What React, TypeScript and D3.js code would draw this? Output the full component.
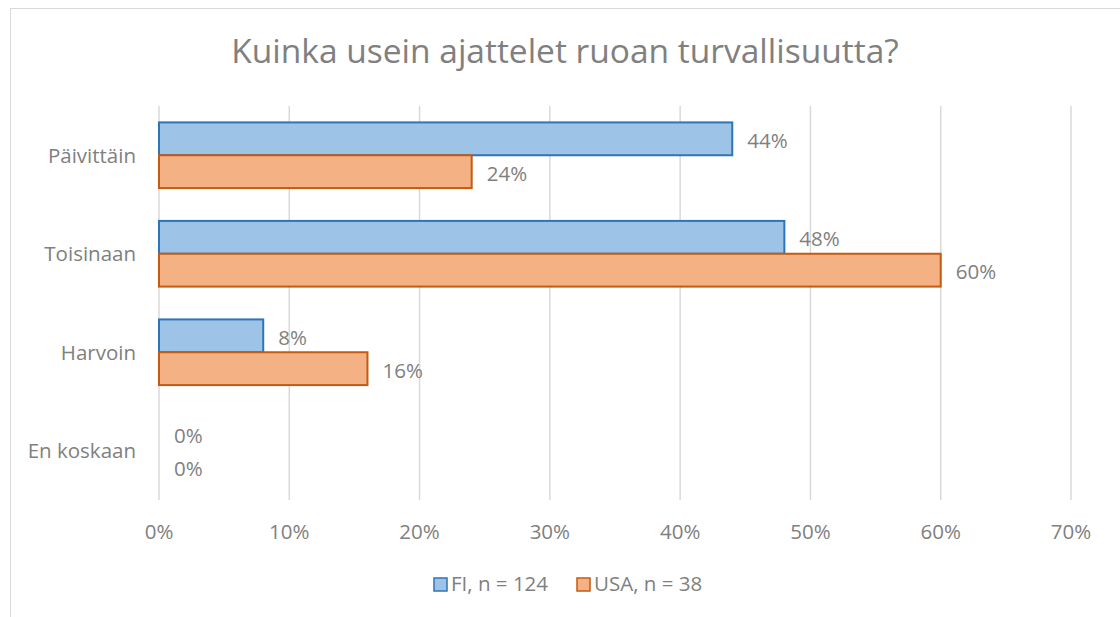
import React from "react";
import * as d3 from "d3";

const title = "Kuinka usein ajattelet ruoan turvallisuutta?";
const categories = ["Päivittäin", "Toisinaan", "Harvoin", "En koskaan"];
const seriesNames = ["FI, n = 124", "USA, n = 38"];
const fiValues = [44, 48, 8, 0];
const usaValues = [24, 60, 16, 0];
const xTicks = [0, 10, 20, 30, 40, 50, 60, 70];

const fills = ["#9DC3E6", "#F4B183"];
const strokes = ["#2E75B6", "#C55A11"];
const FONT = "'Open Sans', 'Noto Sans', sans-serif";
const TXT = "#808080";
const FS = 20.5;

export default function App() {
  const W = 1120, H = 617;
  const x = d3.scaleLinear().domain([0, 70]).range([159, 1071]);
  const y = d3.scaleBand<string>().domain(categories).range([106, 500]).paddingInner(1 / 3).paddingOuter(1 / 6);
  const inner = d3.scaleBand<number>().domain([0, 1]).range([0, y.bandwidth()]);
  const series = [fiValues, usaValues];

  return (
    <svg width={W} height={H} style={{ position: "absolute", left: 0, top: 0 }} fontFamily={FONT}>
      <rect x={0} y={0} width={W} height={H} fill="#fff" />
      <rect x={10.5} y={8.5} width={W + 20} height={H + 20} fill="none" stroke="#D9D9D9" strokeWidth={1} />
      <text x={565} y={54} textAnchor="middle" dominantBaseline="middle" fontSize={33.5} fill={TXT}>{title}</text>
      {xTicks.map((t) => (
        <g key={t}>
          <line x1={x(t)} x2={x(t)} y1={106} y2={500} stroke="#D9D9D9" strokeWidth={1.5} />
          <text x={x(t)} y={534} textAnchor="middle" dominantBaseline="middle" fontSize={FS} fill={TXT}>{t}%</text>
        </g>
      ))}
      {categories.map((c) => (
        <text key={c} x={136} y={(y(c) as number) + y.bandwidth() / 2 + 2} textAnchor="end" dominantBaseline="middle" fontSize={FS} fill={TXT}>{c}</text>
      ))}
      {series.map((vals, si) =>
        vals.map((v, i) => {
          const c = categories[i];
          const y0 = (y(c) as number) + (inner(si) as number);
          const bh = inner.bandwidth();
          return (
            <g key={`${si}-${i}`}>
              {v > 0 && (
                <rect x={x(0)} y={y0} width={x(v) - x(0)} height={bh} fill={fills[si]} stroke={strokes[si]} strokeWidth={2} />
              )}
              <text x={x(v) + 15} y={y0 + bh / 2 + 3.5} dominantBaseline="middle" fontSize={FS} fill={TXT}>{v}%</text>
            </g>
          );
        })
      )}
      {seriesNames.map((s, i) => {
        const lx = [434, 577][i];
        return (
          <g key={s}>
            <rect x={lx} y={578} width={13} height={13} fill={fills[i]} stroke={strokes[i]} strokeWidth={1.5} />
            <text x={lx + 17} y={586} dominantBaseline="middle" fontSize={FS} fill={TXT}>{s}</text>
          </g>
        );
      })}
    </svg>
  );
}
